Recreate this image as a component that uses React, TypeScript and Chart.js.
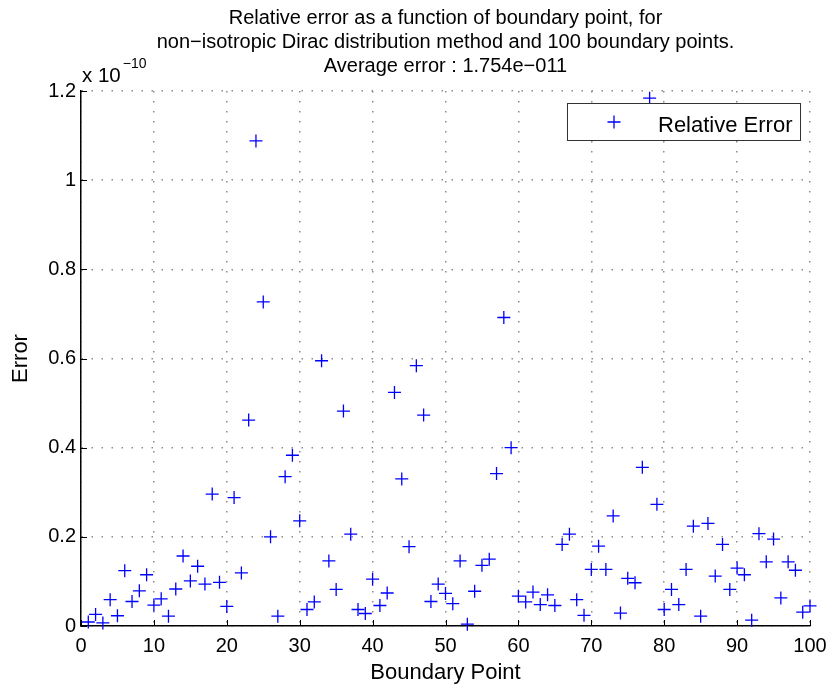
import React, { useEffect, useRef } from "react";
import { Chart, registerables } from "chart.js";

Chart.register(...registerables);

// Relative error per boundary point, in units of 1e-10
const relativeError: number[] = [
  0.009, 0.026, 0.007, 0.059, 0.023, 0.124, 0.055, 0.079, 0.115, 0.047,
  0.061, 0.022, 0.083, 0.157, 0.101, 0.134, 0.094, 0.296, 0.098, 0.044,
  0.288, 0.119, 0.462, 1.088, 0.727, 0.2, 0.022, 0.335, 0.383, 0.236,
  0.037, 0.054, 0.595, 0.146, 0.082, 0.482, 0.206, 0.037, 0.028, 0.105,
  0.046, 0.074, 0.524, 0.33, 0.178, 0.584, 0.473, 0.055, 0.094, 0.073,
  0.05, 0.146, 0.004, 0.078, 0.136, 0.15, 0.342, 0.692, 0.4, 0.067,
  0.054, 0.076, 0.048, 0.07, 0.046, 0.183, 0.206, 0.059, 0.024, 0.127,
  0.179, 0.127, 0.247, 0.029, 0.107, 0.097, 0.356, 1.184, 0.273, 0.037,
  0.082, 0.048, 0.127, 0.224, 0.022, 0.23, 0.112, 0.183, 0.082, 0.13,
  0.115, 0.013, 0.207, 0.144, 0.195, 0.063, 0.144, 0.125, 0.031, 0.045,
];

const xTickValues: number[] = [0, 10, 20, 30, 40, 50, 60, 70, 80, 90, 100];
const yTickValues: number[] = [0, 0.2, 0.4, 0.6, 0.8, 1, 1.2];

const titleLines: string[] = [
  "Relative error as a function of boundary point, for",
  "non\u2212isotropic Dirac distribution method and 100 boundary points.",
  "Average error : 1.754e\u2212011",
];
const exponentBase = "x 10";
const exponentPower = "\u221210";
const seriesLabel = "Relative Error";
const xAxisTitle = "Boundary Point";
const yAxisTitle = "Error";

const FONT = "'Liberation Sans', Arial, Helvetica, sans-serif";
const MARKER_COLOR = "#0000ff";

const decorations = {
  id: "decorations",
  beforeDatasetsDraw(chart: any) {
    // inward tick marks on the two visible axes
    const { ctx, chartArea } = chart;
    const xs = chart.scales.x;
    const ys = chart.scales.y;
    const len = 6;
    ctx.save();
    ctx.strokeStyle = "#000";
    ctx.lineWidth = 1;
    ctx.beginPath();
    for (const v of xTickValues) {
      const px = Math.round(xs.getPixelForValue(v)) + 0.5;
      ctx.moveTo(px, chartArea.bottom);
      ctx.lineTo(px, chartArea.bottom - len);
    }
    for (const v of yTickValues) {
      const py = Math.round(ys.getPixelForValue(v)) + 0.5;
      ctx.moveTo(chartArea.left, py);
      ctx.lineTo(chartArea.left + len, py);
    }
    ctx.stroke();
    ctx.restore();
  },
  afterDraw(chart: any) {
    const { ctx, chartArea } = chart;
    const cx = (chartArea.left + chartArea.right) / 2;
    ctx.save();
    ctx.fillStyle = "#000";

    // title block
    ctx.font = `20px ${FONT}`;
    ctx.textAlign = "center";
    ctx.textBaseline = "alphabetic";
    titleLines.forEach((line, i) => {
      ctx.fillText(line, cx, 24 + i * 24);
    });

    // axis multiplier
    ctx.textAlign = "left";
    ctx.font = `20.5px ${FONT}`;
    ctx.fillText(exponentBase, chartArea.left + 1, 82);
    const w = ctx.measureText(exponentBase).width;
    ctx.font = `14px ${FONT}`;
    ctx.fillText(exponentPower, chartArea.left + 1 + w + 2, 68);

    // legend box
    const bx = chartArea.right - 243;
    const by = chartArea.top + 12;
    const bw = 233;
    const bh = 37;
    ctx.fillStyle = "#fff";
    ctx.fillRect(bx, by, bw, bh);
    ctx.strokeStyle = "#333";
    ctx.lineWidth = 1;
    ctx.strokeRect(Math.round(bx) + 0.5, Math.round(by) + 0.5, bw, bh);

    const mx = bx + 47;
    const my = by + 19;
    ctx.strokeStyle = MARKER_COLOR;
    ctx.lineWidth = 1.3;
    ctx.beginPath();
    ctx.moveTo(mx - 6.5, my);
    ctx.lineTo(mx + 6.5, my);
    ctx.moveTo(mx, my - 6.5);
    ctx.lineTo(mx, my + 6.5);
    ctx.stroke();

    ctx.fillStyle = "#000";
    ctx.font = `22px ${FONT}`;
    ctx.textAlign = "left";
    ctx.fillText(seriesLabel, bx + 91, by + 29);
    ctx.restore();
  },
};

export default function App() {
  const canvasRef = useRef<HTMLCanvasElement | null>(null);

  useEffect(() => {
    const canvas = canvasRef.current;
    if (!canvas) return;

    const points = relativeError.map((v, i) => ({ x: i + 1, y: v }));

    const chart = new Chart(canvas, {
      type: "scatter",
      data: {
        datasets: [
          {
            label: seriesLabel,
            data: points,
            showLine: false,
            pointStyle: "cross",
            pointRadius: 6.5,
            pointHoverRadius: 6.5,
            pointBorderWidth: 1.3,
            borderColor: MARKER_COLOR,
            backgroundColor: MARKER_COLOR,
            clip: false as any,
          },
        ],
      },
      options: {
        responsive: false,
        animation: false,
        devicePixelRatio: 1,
        layout: { padding: { top: 91, right: 25, left: 0, bottom: 0 } },
        plugins: {
          legend: { display: false },
          title: { display: false },
          tooltip: { enabled: false },
        },
        scales: {
          x: {
            type: "linear",
            min: 0,
            max: 100,
            afterBuildTicks: (s: any) => {
              s.ticks = xTickValues.map((v) => ({ value: v }));
            },
            afterFit: (s: any) => {
              s.height = 64;
            },
            ticks: {
              color: "#000",
              font: { family: FONT, size: 20 },
              padding: 8,
              maxRotation: 0,
              autoSkip: false,
            },
            grid: {
              color: "#8c8c8c",
              lineWidth: 1.5,
              drawTicks: false,
            },
            border: { display: true, color: "#000", width: 1.5, dash: [1.5, 8.5] },
            title: {
              display: true,
              text: xAxisTitle,
              color: "#000",
              font: { family: FONT, size: 22 },
              padding: { top: 0, bottom: 4 },
            },
          },
          y: {
            type: "linear",
            min: 0,
            max: 1.2,
            afterBuildTicks: (s: any) => {
              s.ticks = yTickValues.map((v) => ({ value: v }));
            },
            afterFit: (s: any) => {
              s.width = 81;
            },
            ticks: {
              color: "#000",
              font: { family: FONT, size: 20 },
              padding: 5,
              autoSkip: false,
              callback: (v: any) => String(Number(Number(v).toFixed(1))),
            },
            grid: {
              color: "#8c8c8c",
              lineWidth: 1.5,
              drawTicks: false,
            },
            border: { display: true, color: "#000", width: 1.5, dash: [1.5, 8.5] },
            title: {
              display: true,
              text: yAxisTitle,
              color: "#000",
              font: { family: FONT, size: 22 },
              padding: { top: 8, bottom: 0 },
            },
          },
        },
      },
      plugins: [decorations],
    });

    return () => chart.destroy();
  }, []);

  return (
    <div style={{ position: "fixed", left: 0, top: 0, width: 835, height: 690, background: "#fff" }}>
      <canvas ref={canvasRef} width={835} height={690} style={{ width: 835, height: 690, display: "block" }} />
    </div>
  );
}
